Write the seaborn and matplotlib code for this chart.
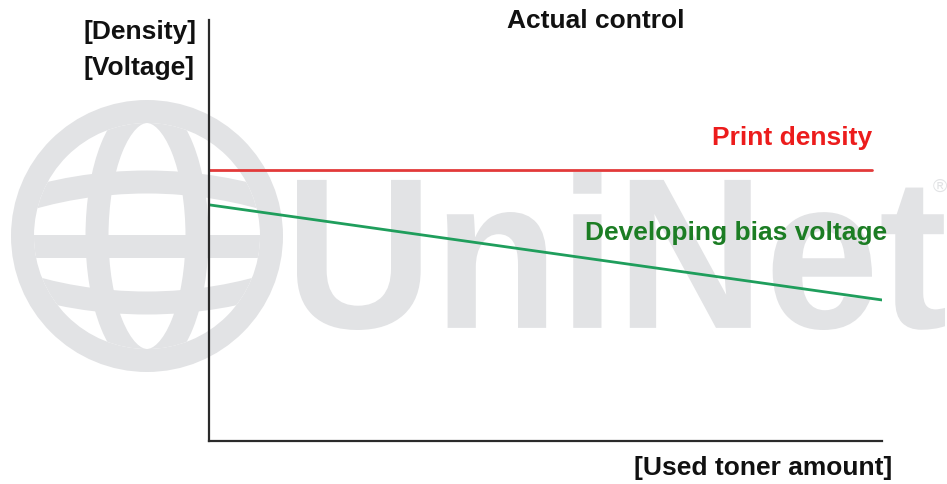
"""
plot.py - "Actual control" diagram: print density vs developing bias voltage
over used toner amount, with the faint UniNet watermark behind it.
"""

import matplotlib
matplotlib.use("Agg")
import matplotlib.pyplot as plt
import seaborn as sns
import pandas as pd
from matplotlib.patches import Circle, Ellipse, PathPatch
from matplotlib.textpath import TextPath
from matplotlib.font_manager import FontProperties
from matplotlib.transforms import Affine2D

# ── Data (arbitrary 0-100 units) ───────────────────────────────────────────
toner_used = [0, 100]
density_x = [0, 98.5]
print_density = [64.4, 64.4]
bias_voltage = [56.1, 33.5]

title = "Actual control"
y_labels = ["[Density]", "[Voltage]"]
x_label = "[Used toner amount]"

RED = "#e23a3a"
GREEN_LINE = "#1f9e5c"
GREEN_TEXT = "#1c7d24"
WATERMARK = "#e2e3e5"
FONT = ["Liberation Sans", "DejaVu Sans"]
FS = 19

sns.set_theme(style="white")
plt.rcParams["font.family"] = FONT

fig = plt.figure(figsize=(9.47, 4.84), dpi=100)

# ── Watermark (pixel coordinates, drawn under everything) ─────────────────
bg = fig.add_axes([0, 0, 1, 1], zorder=0)
bg.set_xlim(0, 947)
bg.set_ylim(484, 0)
bg.axis("off")

cx, cy, r_out, ring = 147, 236, 136, 23
band_pt = ring * 0.72  # px -> pt at 100 dpi
bg.add_patch(Circle((cx, cy), r_out, color=WATERMARK, lw=0))
inner = Circle((cx, cy), r_out - ring, color="white", lw=0)
bg.add_patch(inner)

globe_bands = [
    Ellipse((cx, cy), 100, 2 * (r_out - ring / 2)),   # meridian lens
    Ellipse((cx, 182 + 300), 718, 600),               # upper latitude
    Ellipse((cx, 303 - 300), 718, 600),               # lower latitude
]
for band in globe_bands:
    band.set(fill=False, ec=WATERMARK, lw=band_pt)
    bg.add_patch(band)
    band.set_clip_path(inner)
eq, = bg.plot([cx - r_out, cx + r_out], [246, 246], color=WATERMARK,
              lw=band_pt, solid_capstyle="butt")
eq.set_clip_path(inner)

fp = FontProperties(family="Liberation Sans", weight="bold")
tp = TextPath((0, 0), "UniNet", size=100, prop=fp)
ext = tp.get_extents()
sx = (945 - 297) / ext.width
sy = (330 - 172) / ext.height
tr = (Affine2D().translate(-ext.x0, -ext.y0).scale(sx, -sy)
      .translate(297, 330))
bg.add_patch(PathPatch(tr.transform_path(tp), color=WATERMARK, lw=0))
bg.text(940, 187, "®", color=WATERMARK, fontsize=14, ha="center", va="center")

# ── Main chart ────────────────────────────────────────────────────────────
ax = fig.add_axes([209 / 947, 1 - 441 / 484, 673 / 947, 421 / 484], zorder=1)
ax.set_facecolor("none")

df_density = pd.DataFrame({"toner": density_x, "value": print_density})
df_bias = pd.DataFrame({"toner": toner_used, "value": bias_voltage})
sns.lineplot(data=df_density, x="toner", y="value", color=RED, lw=2, ax=ax)
sns.lineplot(data=df_bias, x="toner", y="value", color=GREEN_LINE, lw=2, ax=ax)

ax.set_xlim(0, 100)
ax.set_ylim(0, 100)
ax.set_xticks([])
ax.set_yticks([])
ax.set_xlabel("")
ax.set_ylabel("")
sns.despine(ax=ax)
for side in ("left", "bottom"):
    ax.spines[side].set_color("#2a2a2a")
    ax.spines[side].set_linewidth(1.6)

ax.text(98.5, 72.0, "Print density", color="#ec1c1c", fontsize=FS,
        fontweight="bold", ha="right", va="center")
ax.text(55.9, 49.4, "Developing bias voltage", color=GREEN_TEXT, fontsize=FS,
        fontweight="bold", ha="left", va="center", clip_on=False)

# ── Labels ────────────────────────────────────────────────────────────────
fig.text(595.5 / 947, 1 - 21 / 484, title, fontsize=FS, fontweight="bold",
         ha="center", va="center", color="#111111")
fig.text(83 / 947, 1 - 32 / 484, y_labels[0], fontsize=FS, fontweight="bold",
         ha="left", va="center", color="#111111")
fig.text(83 / 947, 1 - 68 / 484, y_labels[1], fontsize=FS, fontweight="bold",
         ha="left", va="center", color="#111111")
fig.text(892 / 947, 1 - 468 / 484, x_label, fontsize=FS, fontweight="bold",
         ha="right", va="center", color="#111111")

fig.savefig("out.png", dpi=100)
